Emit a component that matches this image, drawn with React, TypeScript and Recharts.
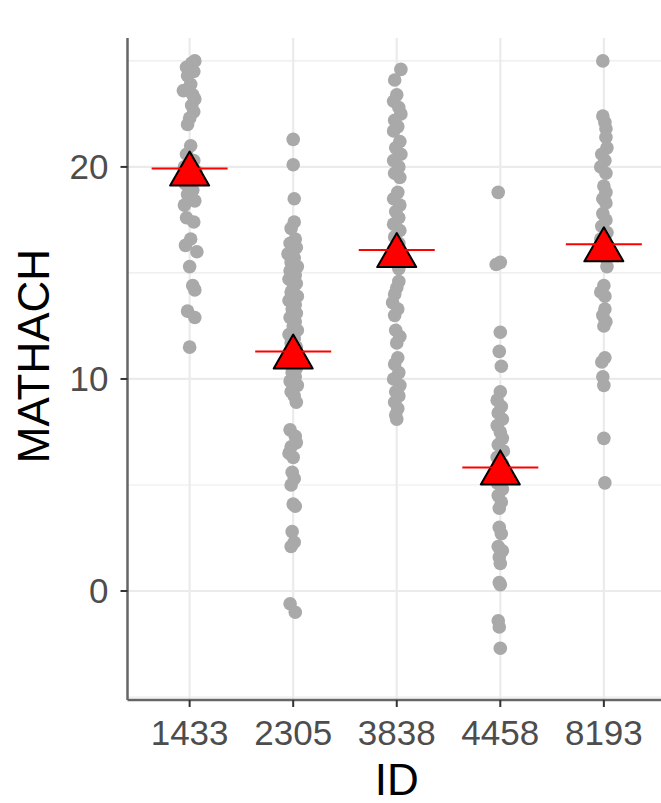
import React from 'react';
import { ScatterChart, Scatter, XAxis, YAxis, CartesianGrid, Label } from 'recharts';

const ids = ['1433', '2305', '3838', '4458', '8193'];
const means = [19.92, 11.29, 16.08, 5.83, 16.35];
const yTicks = [0, 10, 20];
const yMinor = [-5, 5, 15, 25];

// [MATHACH, horizontal jitter]
const s1433 = [
  [25.0, 0.05], [24.9, 0.02], [24.7, -0.03], [24.5, 0.04], [24.3, -0.02], [23.9, 0.01], [23.6, -0.06],
  [23.4, 0.03], [23.2, 0.05], [22.9, 0.02], [22.6, 0.04], [22.3, 0.0], [22.0, -0.02], [21.0, 0.01],
  [20.6, -0.03], [20.3, 0.04], [20.0, -0.05], [19.8, 0.06], [19.5, 0.02], [19.2, -0.04], [18.9, 0.03],
  [18.7, -0.02], [18.4, 0.05], [18.2, -0.05], [17.6, -0.03], [17.4, 0.04], [16.6, 0.01], [16.3, -0.04],
  [16.0, 0.07], [15.3, 0.0], [14.4, 0.03], [14.2, 0.05], [13.2, -0.02], [12.9, 0.05], [11.5, 0.0],
];
const s2305 = [
  [21.3, 0.0], [20.1, 0.0], [18.5, 0.01], [17.4, 0.01], [17.1, -0.02], [16.6, 0.02], [16.4, -0.03],
  [16.2, 0.03], [15.9, -0.05], [15.7, 0.01], [15.5, -0.02], [15.3, 0.04], [15.1, -0.03], [14.9, 0.02],
  [14.7, -0.04], [14.5, 0.03], [14.3, 0.0], [14.1, -0.02], [13.9, 0.04], [13.7, -0.04], [13.5, 0.02],
  [13.3, -0.01], [13.1, 0.03], [12.9, -0.03], [12.7, 0.02], [12.5, 0.0], [12.3, 0.04], [12.1, -0.04],
  [11.9, 0.01], [11.7, -0.02], [11.5, 0.03], [11.3, -0.03], [11.1, 0.02], [10.9, 0.0], [10.7, -0.03],
  [10.5, 0.03], [10.3, -0.01], [10.1, 0.02], [9.9, -0.03], [9.7, 0.04], [9.4, -0.02], [9.2, 0.01],
  [8.9, 0.03], [7.6, -0.03], [7.3, 0.02], [7.0, 0.03], [6.8, -0.02], [6.5, -0.04], [6.3, 0.0],
  [5.6, -0.01], [5.3, 0.01], [5.0, -0.02], [4.1, 0.0], [4.0, 0.02], [2.8, -0.01], [2.3, 0.01],
  [2.1, -0.02], [-0.6, -0.03], [-1.0, 0.02],
];
const s3838 = [
  [24.6, 0.04], [24.1, -0.02], [23.4, 0.0], [23.1, -0.03], [22.8, 0.02], [22.5, 0.04], [22.2, -0.02],
  [21.9, 0.01], [21.7, -0.03], [21.2, 0.03], [20.9, -0.01], [20.6, 0.04], [20.3, -0.03], [20.0, 0.02],
  [19.7, -0.02], [19.5, 0.03], [18.8, 0.01], [18.5, -0.03], [18.2, 0.03], [17.9, -0.01], [17.6, 0.02],
  [17.3, -0.03], [17.0, 0.03], [16.7, -0.02], [16.4, 0.02], [16.1, -0.03], [15.8, 0.03], [15.5, -0.01],
  [15.2, 0.02], [14.6, 0.02], [14.3, 0.0], [14.0, -0.02], [13.6, -0.04], [13.3, 0.01], [13.0, -0.02],
  [12.3, -0.01], [12.0, 0.03], [11.7, 0.0], [11.0, 0.01], [10.7, -0.02], [10.3, 0.02], [10.0, -0.03],
  [9.7, 0.03], [9.4, -0.01], [9.2, 0.02], [8.9, -0.02], [8.6, 0.01], [8.3, -0.01], [8.1, 0.0],
];
const s4458 = [
  [18.8, -0.02], [15.5, 0.0], [15.4, -0.04], [12.2, 0.0], [11.3, -0.01], [10.6, 0.01], [9.4, 0.0],
  [9.0, -0.03], [8.7, 0.01], [8.4, -0.02], [8.1, 0.02], [7.8, -0.03], [7.5, 0.0], [7.2, 0.02],
  [6.9, -0.02], [6.6, 0.03], [6.3, -0.03], [6.0, 0.02], [5.7, -0.01], [5.4, 0.03], [5.1, -0.03],
  [4.8, 0.02], [4.5, -0.02], [4.2, 0.01], [3.9, -0.01], [3.0, -0.01], [2.7, 0.01], [2.1, -0.02],
  [1.9, 0.02], [1.6, -0.01], [1.3, 0.0], [0.4, -0.01], [0.3, 0.0], [-1.4, -0.02], [-1.7, -0.01],
  [-2.7, 0.0],
];
const s8193 = [
  [25.0, -0.01], [22.4, -0.01], [22.1, 0.01], [21.8, 0.02], [21.4, 0.02], [20.9, 0.03], [20.6, -0.02],
  [20.3, 0.01], [20.0, -0.03], [19.7, 0.02], [19.1, 0.0], [18.8, 0.02], [18.5, -0.01], [18.3, 0.02],
  [17.8, -0.01], [17.5, 0.02], [17.2, -0.02], [16.9, 0.03], [16.6, -0.03], [16.3, 0.01], [16.0, -0.02],
  [15.7, 0.02], [15.3, 0.03], [14.4, 0.0], [14.1, -0.03], [13.9, 0.01], [13.3, 0.01], [13.0, -0.01],
  [12.7, 0.02], [12.5, 0.0], [11.0, 0.01], [10.8, -0.02], [10.1, -0.01], [9.7, 0.0], [7.2, 0.0],
  [5.1, 0.01],
];

const schools = [s1433, s2305, s3838, s4458, s8193];

const points = schools.flatMap((s, i) => s.map(([v, j]) => ({ x: i + 1 + j, y: v })));
const meanPoints = means.map((m, i) => ({ x: i + 1, y: m }));

const FONT = '"Liberation Sans", Arial, Helvetica, sans-serif';
const TRI_W = 39;
const TRI_H = 34;
const MEAN_HALF = 38;

const MeanShape = (props: any) => {
  const { cx, cy } = props;
  if (cx == null || cy == null) return null;
  const pts = `${cx},${cy - TRI_H / 2} ${cx - TRI_W / 2},${cy + TRI_H / 2} ${cx + TRI_W / 2},${cy + TRI_H / 2}`;
  return (
    <g>
      <polygon points={pts} fill="#FF0000" stroke="#000000" strokeWidth={2} strokeLinejoin="round" />
      <line x1={cx - MEAN_HALF} x2={cx + MEAN_HALF} y1={cy} y2={cy} stroke="#FF0000" strokeWidth={2} />
    </g>
  );
};

const DotShape = (props: any) => {
  const { cx, cy } = props;
  if (cx == null || cy == null) return null;
  return <circle cx={cx} cy={cy} r={6.8} fill="#A9A9A9" />;
};

const YTitle = (props: any) => {
  const vb = props.viewBox || {};
  const cy = vb.y + vb.height / 2 - 13;
  const cx = 33;
  return (
    <text
      x={cx}
      y={cy}
      transform={`rotate(-90, ${cx}, ${cy})`}
      textAnchor="middle"
      dominantBaseline="central"
      fontSize={44}
      fontFamily={FONT}
      fill="#000"
    >
      MATHACH
    </text>
  );
};

export default function App() {
  return (
    <div style={{ position: 'absolute', left: 0, top: 0, width: 661, height: 803, overflow: 'hidden', background: '#fff' }}>
      <ScatterChart width={670} height={803} margin={{ top: 38, right: 4, bottom: 0, left: 0 }}>
        <CartesianGrid horizontalValues={yMinor} vertical={false} stroke="#EBEBEB" strokeWidth={1.2} />
        <CartesianGrid horizontalValues={yTicks} verticalValues={[1, 2, 3, 4, 5]} stroke="#EBEBEB" strokeWidth={2.2} />
        <XAxis
          type="number"
          dataKey="x"
          domain={[0.4, 5.6]}
          ticks={[1, 2, 3, 4, 5]}
          allowDataOverflow
          tickFormatter={(v: number) => ids[Math.round(v) - 1]}
          height={103}
          tickSize={7}
          tickMargin={13}
          axisLine={{ stroke: '#666666', strokeWidth: 2.5 }}
          tickLine={{ stroke: '#333333', strokeWidth: 2 }}
          tick={{ fill: '#4D4D4D', fontSize: 35, fontFamily: FONT }}
          interval={0}
        >
          <Label value="ID" position="insideBottom" offset={8} fontSize={44} fontFamily={FONT} fill="#000" />
        </XAxis>
        <YAxis
          type="number"
          dataKey="y"
          domain={[-5.14, 26.08]}
          ticks={yTicks}
          allowDataOverflow
          width={127.5}
          tickSize={7}
          tickMargin={12}
          axisLine={{ stroke: '#666666', strokeWidth: 2.5 }}
          tickLine={{ stroke: '#333333', strokeWidth: 2 }}
          tick={{ fill: '#4D4D4D', fontSize: 35, fontFamily: FONT }}
          interval={0}
        >
          <Label content={<YTitle />} />
        </YAxis>
        <Scatter data={points} shape={<DotShape />} isAnimationActive={false} />
        <Scatter data={meanPoints} shape={<MeanShape />} isAnimationActive={false} />
      </ScatterChart>
    </div>
  );
}
